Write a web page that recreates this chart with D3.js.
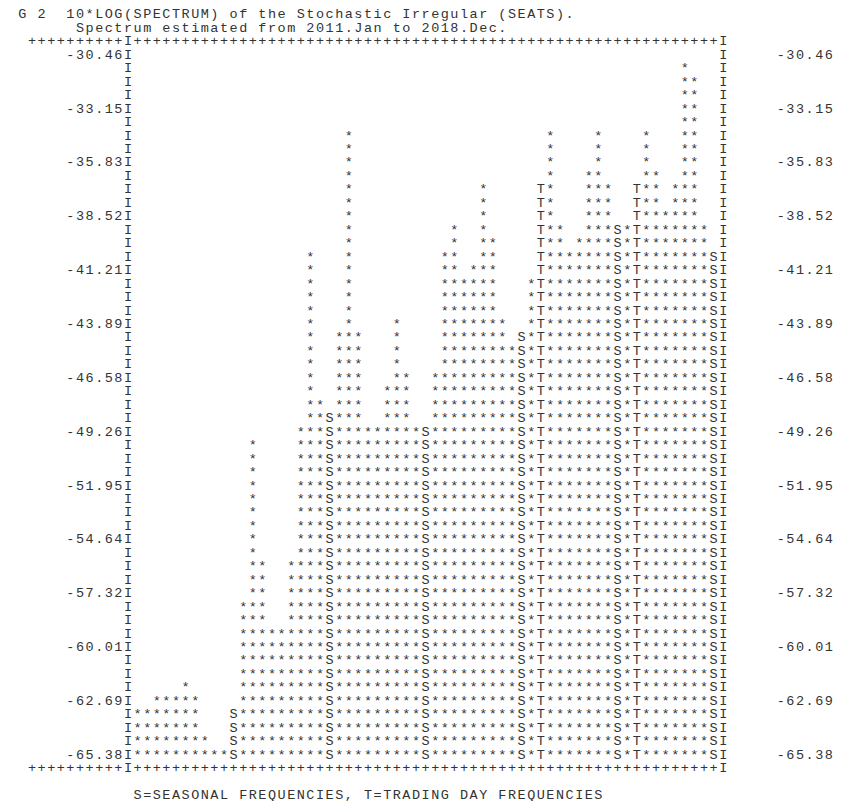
<!DOCTYPE html>
<html>
<head>
<meta charset="utf-8">
<script src="https://cdn.jsdelivr.net/npm/d3@7"></script>
<style>
  body { margin: 0; background: #fff; }
  svg text { font-family: 'Liberation Mono', 'DejaVu Sans Mono', monospace; font-size: 13.5px; fill: #333; }
</style>
</head>
<body>
<svg id="chart" width="845" height="801"></svg>
<script>
const title = 'G 2  10*LOG(SPECTRUM) of the Stochastic Irregular (SEATS).';
const subtitle = 'Spectrum estimated from 2011.Jan to 2018.Dec.';
const legendText = 'S=SEASONAL FREQUENCIES, T=TRADING DAY FREQUENCIES';

// 10*log(spectrum) at the 61 frequencies 0..pi
const spectrumDb = [
  -63.37, -63.37, -62.69, -62.69, -62.69, -62.02, -62.69, -64.71, -65.38, -65.38,
  -63.37, -57.99, -49.93, -55.98, -59.34, -59.34, -55.98, -49.26, -40.53, -47.92,
  -48.59, -44.56, -34.49, -44.56, -49.26, -49.26, -47.25, -43.89, -46.58, -49.26,
  -49.26, -46.58, -40.53, -39.19, -41.88, -41.20, -37.18, -39.86, -43.89, -45.23,
  -44.56, -41.88, -37.18, -34.49, -39.19, -40.53, -39.86, -36.50, -34.49, -37.18,
  -39.19, -39.19, -37.18, -34.49, -36.50, -38.52, -37.18, -31.13, -31.80, -39.19,
  -40.53
];
const seasonalFreq = [10, 20, 30, 40, 50, 60];
const tradingDayFreq = [42, 52];

const tickLabels = ['-30.46', '-33.15', '-35.83', '-38.52', '-41.21', '-43.89', '-46.58',
  '-49.26', '-51.95', '-54.64', '-57.32', '-60.01', '-62.69', '-65.38'];

const svg = d3.select('#chart');
svg.append('rect').attr('width', 845).attr('height', 801).attr('fill', '#fff');

// character grid: column -> x centre, text line -> baseline
const col = d3.scaleLinear().domain([0, 84]).range([22.4, 22.4 + 84 * 9.6]);
const line = d3.scaleLinear().domain([0, 58]).range([18.4, 18.4 + 58 * 13.46]);
// spectrum level -> plot row (row 0 = top, row 52 = bottom)
const level = d3.scaleLinear().domain([-30.46, -65.38]).range([0, 52]);
const nRows = 53;
const firstRowLine = 3;
const leftCol = 11, rightCol = 73;

// one text element per string, every glyph sat on its own column
function putText (g, str, c0, l) {
  const chars = Array.from(str);
  return g.append('text')
    .attr('x', chars.map((_, i) => col(c0 + i)).join(' '))
    .attr('y', line(l))
    .attr('text-anchor', 'middle')
    .attr('xml:space', 'preserve')
    .text(str);
}

const head = svg.append('g').attr('class', 'head');
putText(head, title, 0, 0);
putText(head, subtitle, 6, 1);

// frame
const frame = svg.append('g').attr('class', 'frame');
const border = '+'.repeat(leftCol - 1) + 'I' + '+'.repeat(rightCol - leftCol - 1) + 'I';
putText(frame, border, 1, firstRowLine - 1);
putText(frame, border, 1, firstRowLine + nRows);

const tickRows = new Map(tickLabels.map(t => [Math.round(level(+t)), t]));
d3.range(nRows).forEach(r => {
  const t = tickRows.get(r);
  const l = firstRowLine + r;
  if (t) {
    putText(frame, t + 'I', leftCol - t.length, l);
    putText(frame, 'I' + ' '.repeat(5) + t, rightCol, l);
  } else {
    putText(frame, 'I', leftCol, l);
    putText(frame, 'I', rightCol, l);
  }
});

// spectrum columns, filled from the level down to the bottom row
const cells = spectrumDb.flatMap((v, i) => {
  const ch = seasonalFreq.includes(i) ? 'S' : tradingDayFreq.includes(i) ? 'T' : '*';
  return d3.range(Math.round(level(v)), nRows).map(r => ({ i, r, ch }));
});

svg.append('g').attr('class', 'spectrum')
  .selectAll('text')
  .data(cells)
  .join('text')
    .attr('x', d => col(leftCol + 1 + d.i))
    .attr('y', d => line(firstRowLine + d.r))
    .attr('text-anchor', 'middle')
    .text(d => d.ch);

putText(svg.append('g').attr('class', 'legend'), legendText, 12, firstRowLine + nRows + 2);
</script>
</body>
</html>
